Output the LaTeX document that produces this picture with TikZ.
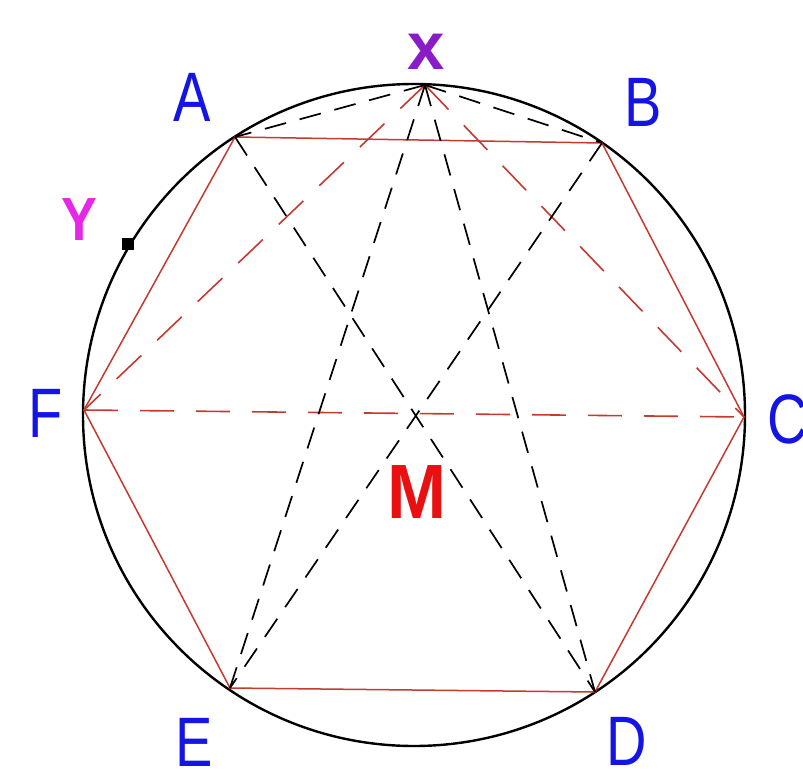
\documentclass[tikz,border=0pt]{standalone}
\usepackage{fontspec}
\setmainfont{Liberation Sans}
\definecolor{lblblue}{HTML}{1414E6}
\definecolor{hexred}{HTML}{C23A30}
\definecolor{mred}{HTML}{E81010}
\definecolor{xpurple}{HTML}{8A1CC8}
\definecolor{ymag}{HTML}{E628E6}
\begin{document}
\begin{tikzpicture}[x=1pt,y=-1pt,
  vlabel/.style={inner sep=0pt,text=lblblue,font=\fontsize{70}{70}\selectfont},
  hexline/.style={hexred,line width=1.5pt},
  reddash/.style={hexred,line width=1.6pt,dash pattern=on 34pt off 22pt},
  blackdash/.style={black,line width=1.7pt,dash pattern=on 22pt off 14pt},
  circ/.style={black,line width=2.4pt}]
\useasboundingbox (0,0) rectangle (803,773);
% circle
\coordinate (M) at (414,415);
\draw[circ] (M) circle (331);
% points
\coordinate (A) at (235,137);
\coordinate (B) at (602,143);
\coordinate (C) at (744,417);
\coordinate (D) at (595,692);
\coordinate (E) at (230,688);
\coordinate (F) at (84,410);
\coordinate (X) at (425,85);
% hexagon
\draw[hexline] (A) -- (B) -- (C) -- (D) -- (E) -- (F) -- cycle;
% red dashed
\draw[reddash] (F) -- (C);
\draw[reddash] (X) -- (F);
\draw[reddash] (X) -- (C);
% black dashed
\draw[blackdash] (X) -- (A);
\draw[blackdash] (X) -- (B);
\draw[blackdash] (X) -- (E);
\draw[blackdash] (X) -- (D);
\draw[blackdash] (A) -- (D);
\draw[blackdash] (B) -- (E);
% Y marker
\node[fill=black,minimum size=12pt,inner sep=0pt] (ym) at (128,244) {};
% labels
\node[vlabel] (la) at (192,97) {\scalebox{0.8}[1]{A}};
\node[vlabel] (lb) at (643,102) {\scalebox{0.8}[1]{B}};
\node[vlabel] (lc) at (788,419) {\scalebox{0.8}[1]{C}};
\node[vlabel] (ld) at (627,741) {\scalebox{0.8}[1]{D}};
\node[vlabel] (le) at (194,742) {\scalebox{0.8}[1]{E}};
\node[vlabel] (lf) at (46,413) {\scalebox{0.8}[1]{F}};
\node[inner sep=0pt,text=xpurple,font=\fontsize{67}{67}\selectfont\bfseries] (lx) at (426,52) {x};
\node[inner sep=0pt,text=ymag,font=\fontsize{61}{61}\selectfont] (ly) at (79,220) {\scalebox{0.88}[1]{\textbf{Y}}};
\node[inner sep=0pt,text=mred,font=\fontsize{77}{77}\selectfont\bfseries] (lm) at (417,492) {\scalebox{0.92}[1]{M}};
\end{tikzpicture}
\end{document}
